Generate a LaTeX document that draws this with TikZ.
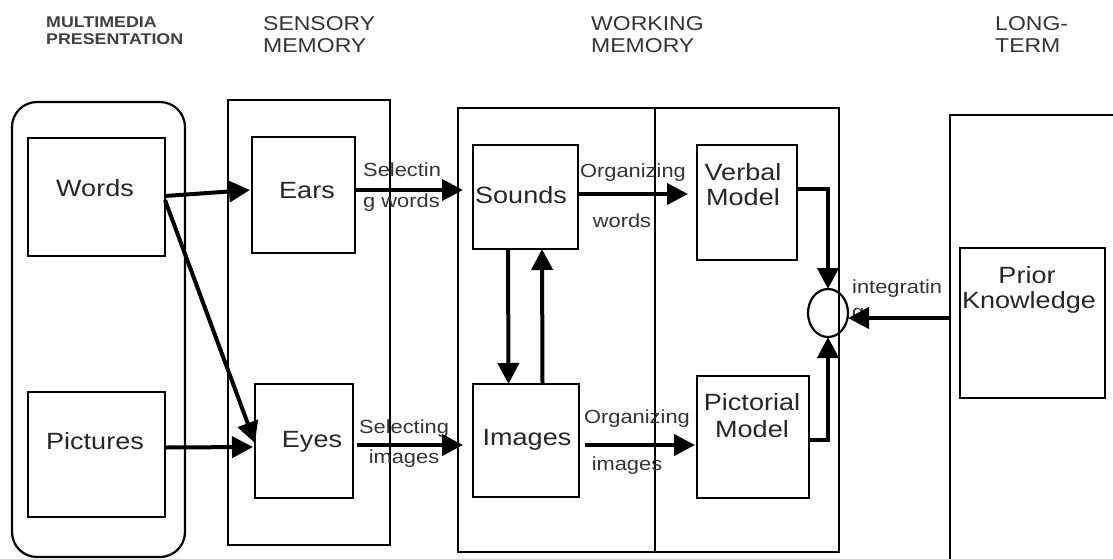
\documentclass[tikz,border=0pt]{standalone}
\usepackage{fontspec}
\setmainfont{Liberation Sans}[FakeStretch=1.15]
\usetikzlibrary{arrows.meta,shapes.geometric}
\begin{document}
\begin{tikzpicture}[x=1pt,y=-1pt,
  boxst/.style={draw=black, line width=2.2pt, inner sep=0pt, outer sep=0pt, rectangle},
  txt/.style={inner sep=0pt, anchor=base, font=\fontsize{23.5}{25}\selectfont, text=black!85},
  lbl/.style={inner sep=0pt, anchor=base, font=\fontsize{19}{21}\selectfont, text=black!80},
  hdr/.style={inner sep=0pt, anchor=base west, font=\fontsize{20}{22}\selectfont, text=black!80},
  hdrs/.style={inner sep=0pt, anchor=base west, font=\bfseries\fontsize{15.5}{17}\selectfont, text=black!75},
  arr/.style={line width=4pt, -{Triangle[length=21pt,width=21pt]}}]
\useasboundingbox (0,0) rectangle (1113,558);
\clip (0,0) rectangle (1113,558);
% headers
\node[hdrs] (h1a) at (46,27) {MULTIMEDIA};
\node[hdrs] (h1b) at (46,44) {PRESENTATION};
\node[hdr] (h2a) at (263,30) {SENSORY};
\node[hdr] (h2b) at (263,52) {MEMORY};
\node[hdr] (h3a) at (591,30) {WORKING};
\node[hdr] (h3b) at (591,52) {MEMORY};
\node[hdr] (h4a) at (995,30) {LONG-};
\node[hdr] (h4b) at (995,52) {TERM};
% containers
\node[boxst, rounded corners=25pt, minimum width=173pt, minimum height=455pt] (mm) at (98.5,329.5) {};
\node[boxst, minimum width=162pt, minimum height=445pt] (sens) at (309,322.5) {};
\node[boxst, line width=2.6pt, minimum width=381pt, minimum height=444pt] (wm) at (648.5,330) {};
\draw[line width=2.6pt] (655,108) -- (655,552);
\node[boxst, line width=2.6pt, minimum width=175pt, minimum height=455pt] (lt) at (1037.5,342.5) {};
% boxes
\node[boxst, minimum width=137pt, minimum height=118pt] (words) at (96.5,197) {};
\node[boxst, minimum width=137pt, minimum height=125pt] (pictures) at (96.5,454.5) {};
\node[boxst, minimum width=103pt, minimum height=116pt] (ears) at (303.5,195) {};
\node[boxst, minimum width=98pt, minimum height=114pt] (eyes) at (304,441) {};
\node[boxst, minimum width=105pt, minimum height=104pt] (sounds) at (525.5,197) {};
\node[boxst, minimum width=106pt, minimum height=113pt] (images) at (526,440.5) {};
\node[boxst, minimum width=100pt, minimum height=115pt] (verbal) at (747,202.5) {};
\node[boxst, minimum width=112pt, minimum height=122pt] (pictorial) at (753,437) {};
\node[boxst, minimum width=145pt, minimum height=150pt] (prior) at (1032.5,323) {};
\node[draw=black, line width=2.2pt, ellipse, inner sep=0pt, outer sep=0pt, minimum width=40pt, minimum height=48pt] (integ) at (828,313) {};
% box texts
\node[txt] (twords) at (95,196) {Words};
\node[txt] (tpict) at (95,449) {Pictures};
\node[txt] (tears) at (307,198) {Ears};
\node[txt] (teyes) at (312,447) {Eyes};
\node[txt] (tsounds) at (521,203) {Sounds};
\node[txt] (timages) at (527,445) {Images};
\node[txt] (tverb1) at (743,180) {Verbal};
\node[txt] (tverb2) at (743,205) {Model};
\node[txt] (tpic1) at (752,410) {Pictorial};
\node[txt] (tpic2) at (752,437) {Model};
\node[txt] (tprior1) at (1027,283) {Prior};
\node[txt] (tprior2) at (1029,308) {Knowledge};
% labels
\node[lbl, anchor=base west] (l1a) at (363,176) {Selectin};
\node[lbl, anchor=base west] (l1b) at (363,207) {g words};
\node[lbl] (l2a) at (404,433) {Selecting};
\node[lbl] (l2b) at (404,463) {images};
\node[lbl] (l3a) at (633,177) {Organizing};
\node[lbl] (l3b) at (622,227) {words};
\node[lbl] (l4a) at (637,423) {Organizing};
\node[lbl] (l4b) at (627,470) {images};
\node[lbl, anchor=base west] (l5a) at (852,293) {integratin};
\node[lbl, anchor=base west] (l5b) at (852,318) {g};
% arrows
\draw[arr] ([yshift=1pt]words.east) -- ([yshift=5pt,xshift=-2pt]ears.west);
\draw[arr] ([yshift=-3pt]words.east) -- ([yshift=-2pt]eyes.west);
\draw[arr] ([yshift=7pt]pictures.east) -- ([yshift=-6pt,xshift=-2pt]eyes.west);
\coordinate (c1) at ([yshift=5pt]ears.east);
\draw[arr, shorten >=-5pt] (c1) -- (c1 -| wm.west);
\coordinate (c2) at ([yshift=-4pt,xshift=4pt]eyes.east);
\draw[arr, shorten >=-5pt] (c2) -- (c2 -| wm.west);
\coordinate (c3) at ([yshift=3pt]sounds.east);
\draw[arr, shorten >=9pt] (c3) -- (c3 -| verbal.west);
\coordinate (c4) at ([yshift=-4.5pt,xshift=6pt]images.east);
\draw[arr, shorten >=2pt] (c4) -- (c4 -| pictorial.west);
\draw[arr] ([xshift=-17.5pt]sounds.south) -- ([xshift=-17.5pt]images.north);
\draw[arr] ([xshift=16.5pt]images.north) -- ([xshift=16.5pt]sounds.south);
\draw[arr] ([yshift=13.5pt]verbal.east) -| (integ.north);
\draw[arr] ([yshift=-3pt]pictorial.east) -| (integ.south);
\coordinate (ltp) at (950,318);
\draw[arr] (ltp) -- (ltp -| integ.east);
\end{tikzpicture}
\end{document}
